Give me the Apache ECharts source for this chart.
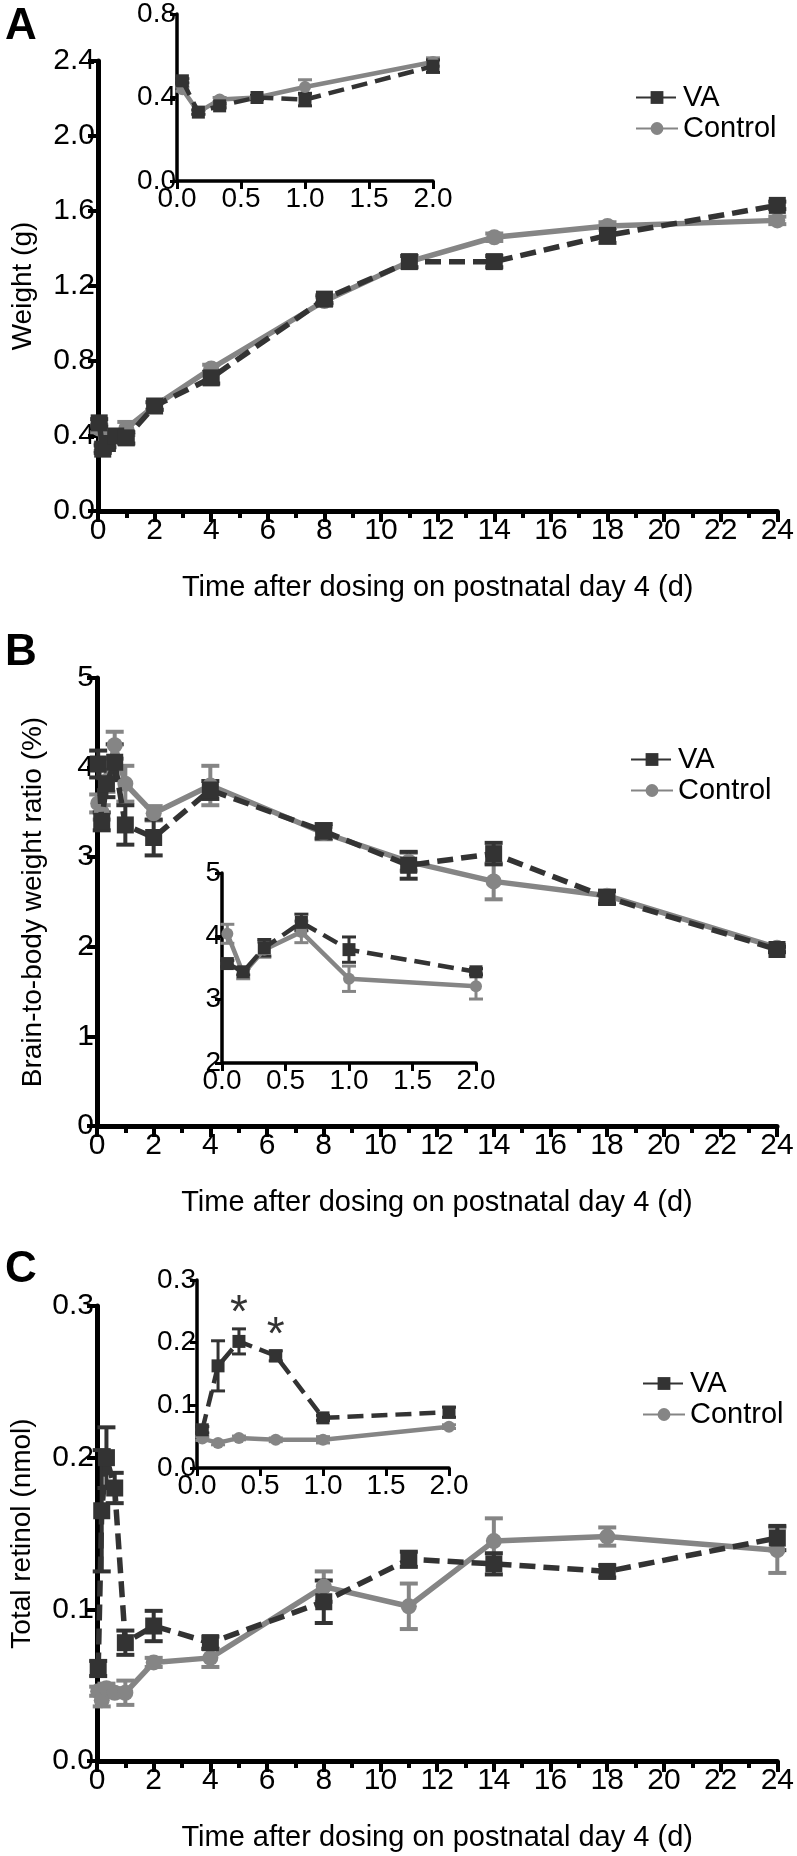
<!DOCTYPE html>
<html>
<head>
<meta charset="utf-8">
<script src="https://cdn.jsdelivr.net/npm/echarts@6/dist/echarts.min.js"></script>
<style>
html,body{margin:0;padding:0;background:#fff;}
#chart{width:797px;height:1856px;}
</style>
</head>
<body>
<div id="chart"></div>
<script>
// ---------- data ----------
const timeMain = [0.042, 0.167, 0.333, 0.625, 1, 2, 4, 8, 11, 14, 18, 24];
const timeInset = [0.042, 0.167, 0.333, 0.625, 1, 2];

// Panel A: weight (g)
const weightVA      = [0.47, 0.33, 0.36, 0.40, 0.39, 0.56, 0.71, 1.13, 1.33, 1.33, 1.47, 1.63];
const weightVAErr   = [0.02, 0.02, 0.02, 0.01, 0.03, 0.02, 0.03, 0.02, 0.03, 0.03, 0.04, 0.02];
const weightCtl     = [0.44, 0.34, 0.39, 0.40, 0.44, 0.56, 0.76, 1.12, 1.33, 1.46, 1.52, 1.55];
const weightCtlErr  = [0.02, 0.02, 0.02, 0.01, 0.035, 0.02, 0.02, 0.02, 0.03, 0.02, 0.02, 0.02];
const insWeightVA     = [0.48, 0.33, 0.36, 0.40, 0.39, 0.55];
const insWeightVAErr  = [0.01, 0.01, 0.01, 0.01, 0.03, 0.03];
const insWeightCtl    = [0.44, 0.33, 0.39, 0.40, 0.45, 0.57];
const insWeightCtlErr = [0.01, 0.01, 0.01, 0.01, 0.035, 0.02];

// Panel B: brain-to-body weight ratio (%)
const ratioVA      = [4.04, 3.40, 3.82, 4.06, 3.36, 3.22, 3.75, 3.29, 2.91, 3.04, 2.55, 1.97];
const ratioVAErr   = [0.15, 0.10, 0.15, 0.20, 0.22, 0.20, 0.10, 0.08, 0.15, 0.12, 0.07, 0.03];
const ratioCtl     = [3.60, 3.50, 3.85, 4.25, 3.82, 3.49, 3.80, 3.27, 2.95, 2.73, 2.57, 1.99];
const ratioCtlErr  = [0.10, 0.08, 0.12, 0.15, 0.20, 0.08, 0.22, 0.07, 0.10, 0.20, 0.06, 0.03];
const insRatioVA     = [3.57, 3.44, 3.82, 4.22, 3.79, 3.44];
const insRatioVAErr  = [0.05, 0.05, 0.13, 0.13, 0.20, 0.05];
const insRatioCtl    = [4.04, 3.41, 3.79, 4.07, 3.33, 3.21];
const insRatioCtlErr = [0.15, 0.08, 0.12, 0.17, 0.20, 0.20];

// Panel C: total retinol (nmol)
const retinolVA      = [0.061, 0.165, 0.200, 0.180, 0.078, 0.089, 0.078, 0.105, 0.133, 0.130, 0.125, 0.147];
const retinolVAErr   = [0.005, 0.040, 0.020, 0.010, 0.008, 0.010, 0.004, 0.014, 0.005, 0.007, 0.004, 0.008];
const retinolCtl     = [0.046, 0.040, 0.048, 0.045, 0.045, 0.065, 0.068, 0.115, 0.102, 0.145, 0.148, 0.139];
const retinolCtlErr  = [0.003, 0.004, 0.003, 0.003, 0.008, 0.003, 0.006, 0.010, 0.015, 0.015, 0.006, 0.015];
const insRetinolVA     = [0.061, 0.163, 0.202, 0.179, 0.080, 0.089];
const insRetinolVAErr  = [0.005, 0.040, 0.020, 0.008, 0.004, 0.008];
const insRetinolCtl    = [0.047, 0.040, 0.048, 0.045, 0.045, 0.066];
const insRetinolCtlErr = [0.003, 0.003, 0.003, 0.003, 0.005, 0.003];
const starTimes = [0.333, 0.625]; // significant points (inset C)

const seriesNames = ['VA', 'Control'];
const xTitle = 'Time after dosing on postnatal day 4 (d)';
const yTitles = ['Weight (g)', 'Brain-to-body weight ratio (%)', 'Total retinol (nmol)'];
const panelLetters = ['A', 'B', 'C'];

// ---------- font selection (narrow sans if available) ----------
function fontAvailable(name) {
  const ctx = document.createElement('canvas').getContext('2d');
  const s = 'abcdefghijklmnopqrstuvwxyz0123456789ABCDEFG';
  ctx.font = '40px monospace';
  const a = ctx.measureText(s).width;
  ctx.font = '40px "' + name + '", monospace';
  const b = ctx.measureText(s).width;
  return Math.abs(a - b) > 1;
}
const NARROW = fontAvailable('Liberation Sans Narrow');
const FONT = NARROW ? "'Liberation Sans Narrow', 'Liberation Sans', Arial, sans-serif"
                    : "'Liberation Sans', Arial, Helvetica, sans-serif";
const K = NARROW ? 1.19 : 1.0;   // size factor so text widths stay the same
const fs = v => Math.round(v * K);

const VA_COLOR = '#333333';
const CTL_COLOR = '#858585';

const chart = echarts.init(document.getElementById('chart'), null, {renderer: 'canvas'});

function pairs(t, v) { return t.map((x, i) => [x, v[i]]); }
function triples(t, v, e) { return t.map((x, i) => [x, v[i], e[i]]); }

function errRender(cap, w, color) {
  return function (params, api) {
    const x = api.value(0), y = api.value(1), e = api.value(2);
    const p1 = api.coord([x, y + e]);
    const p2 = api.coord([x, y - e]);
    const st = {stroke: color, lineWidth: w};
    return {
      type: 'group',
      children: [
        {type: 'line', shape: {x1: p1[0], y1: p1[1], x2: p2[0], y2: p2[1]}, style: st},
        {type: 'line', shape: {x1: p1[0] - cap, y1: p1[1], x2: p1[0] + cap, y2: p1[1]}, style: st},
        {type: 'line', shape: {x1: p2[0] - cap, y1: p2[1], x2: p2[0] + cap, y2: p2[1]}, style: st}
      ]
    };
  };
}

const grids = [
  {left: 98,  top: 61,   width: 684, height: 450},  // A main
  {left: 177, top: 14,   width: 256, height: 167},  // A inset
  {left: 97,  top: 678,  width: 680, height: 448},  // B main
  {left: 222, top: 873,  width: 254, height: 190},  // B inset
  {left: 96,  top: 1306, width: 688, height: 455},  // C main
  {left: 197, top: 1280, width: 252, height: 188}   // C inset
];

function mainX(gi) {
  return {
    type: 'value', gridIndex: gi, min: 0, max: 24, interval: 2,
    name: xTitle, nameLocation: 'middle', nameGap: NARROW ? 60 : 62,
    nameTextStyle: {fontFamily: FONT, fontSize: fs(29), color: '#000'},
    axisLine: {show: true, onZero: false, lineStyle: {color: '#000', width: 5}},
    axisTick: {show: true, length: 11, lineStyle: {color: '#000', width: 4}},
    minorTick: {show: true, splitNumber: 2, length: 7, lineStyle: {color: '#000', width: 4}},
    axisLabel: {fontFamily: FONT, fontSize: fs(30), color: '#000', margin: 5},
    splitLine: {show: false}
  };
}
function mainY(gi, max, interval, dec, title, gap) {
  return {
    type: 'value', gridIndex: gi, min: 0, max: max, interval: interval,
    name: title, nameLocation: 'middle', nameGap: gap, nameRotate: 90,
    nameTextStyle: {fontFamily: FONT, fontSize: fs(28), color: '#000'},
    axisLine: {show: true, onZero: false, lineStyle: {color: '#000', width: 5}},
    axisTick: {show: true, length: 10, lineStyle: {color: '#000', width: 4}},
    axisLabel: {fontFamily: FONT, fontSize: fs(30), color: '#000', margin: 3,
      formatter: v => v.toFixed(dec)},
    splitLine: {show: false}
  };
}
function insetX(gi) {
  return {
    type: 'value', gridIndex: gi, min: 0, max: 2, interval: 0.5,
    axisLine: {show: true, onZero: false, lineStyle: {color: '#000', width: 3.5}},
    axisTick: {show: true, length: 8, lineStyle: {color: '#000', width: 3}},
    axisLabel: {fontFamily: FONT, fontSize: fs(28), color: '#000', margin: 4,
      formatter: v => v.toFixed(1)},
    splitLine: {show: false}
  };
}
function insetY(gi, min, max, interval, dec) {
  return {
    type: 'value', gridIndex: gi, min: min, max: max, interval: interval,
    axisLine: {show: true, onZero: false, lineStyle: {color: '#000', width: 3.5}},
    axisTick: {show: true, length: 7, lineStyle: {color: '#000', width: 3}},
    axisLabel: {fontFamily: FONT, fontSize: fs(28), color: '#000', margin: 1,
      formatter: v => v.toFixed(dec)},
    splitLine: {show: false}
  };
}

function lineSeries(name, gi, data, isVA, inset) {
  return {
    name: name, type: 'line', xAxisIndex: gi, yAxisIndex: gi, data: data,
    symbol: isVA ? 'rect' : 'circle',
    symbolSize: inset ? (isVA ? 13 : 12) : (isVA ? 17 : 16),
    showSymbol: true,
    lineStyle: {color: isVA ? VA_COLOR : CTL_COLOR, width: inset ? 4.5 : 5.5,
      type: isVA ? [16, 8] : 'solid'},
    itemStyle: {color: isVA ? VA_COLOR : CTL_COLOR, borderWidth: 0},
    z: isVA ? 4 : 3, silent: true, animation: false
  };
}
function errSeries(gi, data, isVA, inset) {
  return {
    name: (isVA ? 'VA' : 'Control') + ' error', type: 'custom',
    xAxisIndex: gi, yAxisIndex: gi, data: data,
    renderItem: errRender(inset ? 7 : 9, inset ? 3 : 4, isVA ? VA_COLOR : CTL_COLOR),
    z: isVA ? 2 : 1, silent: true, animation: false
  };
}

const series = [];
function addPanel(gMain, gIns, mVA, mVAe, mC, mCe, iVA, iVAe, iC, iCe) {
  series.push(errSeries(gMain, triples(timeMain, mC, mCe), false, false));
  series.push(errSeries(gMain, triples(timeMain, mVA, mVAe), true, false));
  series.push(lineSeries('Control', gMain, pairs(timeMain, mC), false, false));
  series.push(lineSeries('VA', gMain, pairs(timeMain, mVA), true, false));
  series.push(errSeries(gIns, triples(timeInset, iC, iCe), false, true));
  series.push(errSeries(gIns, triples(timeInset, iVA, iVAe), true, true));
  series.push(lineSeries('Control', gIns, pairs(timeInset, iC), false, true));
  series.push(lineSeries('VA', gIns, pairs(timeInset, iVA), true, true));
}
addPanel(0, 1, weightVA, weightVAErr, weightCtl, weightCtlErr,
         insWeightVA, insWeightVAErr, insWeightCtl, insWeightCtlErr);
addPanel(2, 3, ratioVA, ratioVAErr, ratioCtl, ratioCtlErr,
         insRatioVA, insRatioVAErr, insRatioCtl, insRatioCtlErr);
addPanel(4, 5, retinolVA, retinolVAErr, retinolCtl, retinolCtlErr,
         insRetinolVA, insRetinolVAErr, insRetinolCtl, insRetinolCtlErr);

// significance stars above VA error bars in inset C
const starData = starTimes.map(t => {
  const i = timeInset.indexOf(t);
  return [t, insRetinolVA[i] + insRetinolVAErr[i]];
});
series.push({
  name: 'significance', type: 'custom', xAxisIndex: 5, yAxisIndex: 5, data: starData,
  renderItem: function (params, api) {
    const p = api.coord([api.value(0), api.value(1)]);
    return {type: 'text', x: p[0], y: p[1] + 8,
      style: {text: '*', fontFamily: "'Liberation Sans', Arial, sans-serif", fontSize: 46, fill: VA_COLOR,
        align: 'center', verticalAlign: 'bottom',
        textAlign: 'center', textVerticalAlign: 'bottom'}};
  },
  z: 5, silent: true, animation: false
});

function legendAt(left, top) {
  return {
    data: seriesNames, orient: 'vertical', left: left, top: top,
    itemWidth: 42, itemHeight: 16, itemGap: NARROW ? -3 : 2,
    textStyle: {fontFamily: FONT, fontSize: fs(29), color: '#000'},
    selectedMode: false
  };
}

const option = {
  animation: false,
  backgroundColor: '#fff',
  title: panelLetters.map((l, i) => ({
    text: l, left: 0, top: [0, 626, 1243][i],
    textStyle: {fontFamily: "'Liberation Sans', Arial, sans-serif", fontSize: 44, fontWeight: 'bold', color: '#000'}
  })),
  legend: [legendAt(630, NARROW ? 76 : 78), legendAt(625, NARROW ? 738 : 740), legendAt(637, NARROW ? 1362 : 1364)],
  grid: grids,
  xAxis: [mainX(0), insetX(1), mainX(2), insetX(3), mainX(4), insetX(5)],
  yAxis: [
    mainY(0, 2.4, 0.4, 1, yTitles[0], NARROW ? 58 : 61),
    insetY(1, 0, 0.8, 0.4, 1),
    mainY(2, 5, 1, 0, yTitles[1], NARROW ? 46 : 50),
    insetY(3, 2, 5, 1, 0),
    mainY(4, 0.3, 0.1, 1, yTitles[2], NARROW ? 58 : 61),
    insetY(5, 0, 0.3, 0.1, 1)
  ],
  series: series
};
chart.setOption(option);
</script>
</body>
</html>
